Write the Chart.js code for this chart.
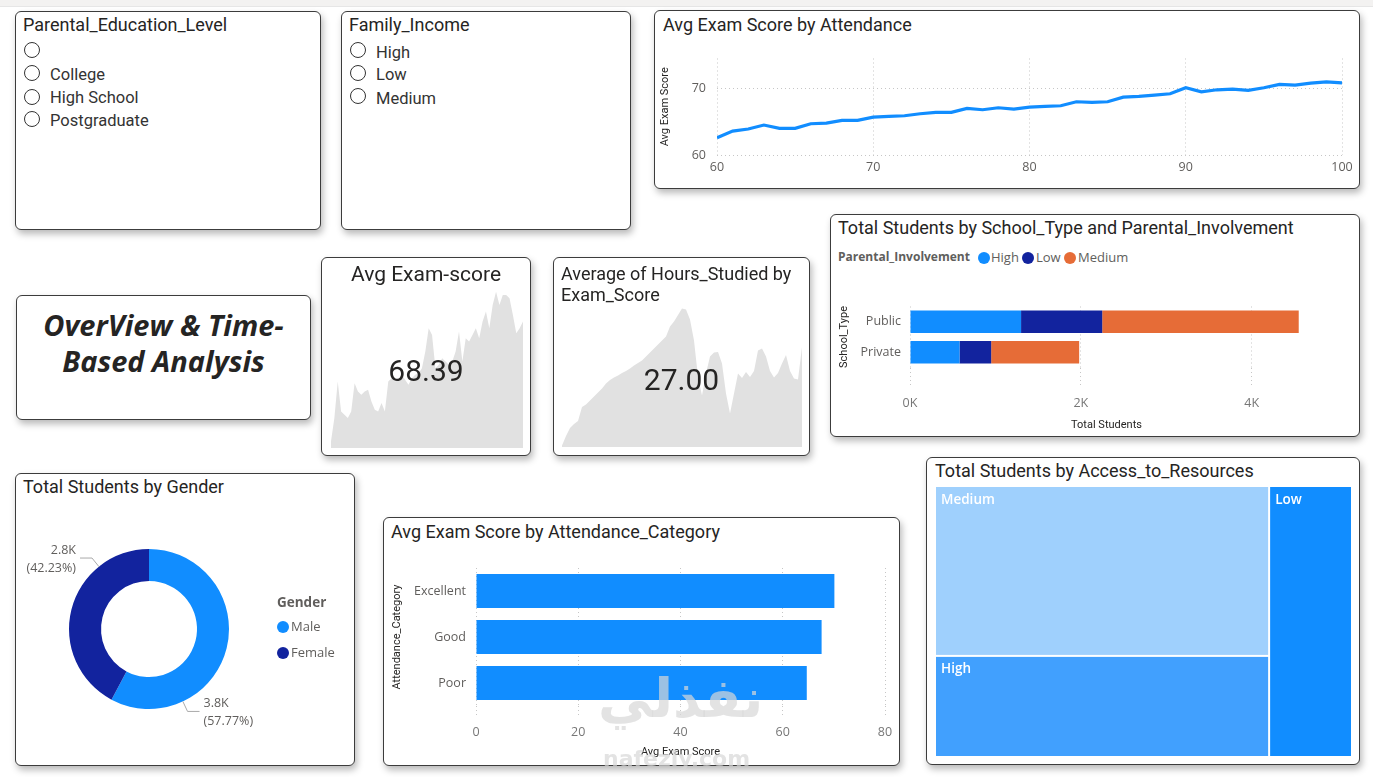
<!DOCTYPE html>
<html><head><meta charset="utf-8">
<script src="https://cdn.jsdelivr.net/npm/chart.js@4.4.1/dist/chart.umd.min.js"></script>
<style>
html,body{margin:0;padding:0;background:#fff;width:1373px;height:777px;overflow:hidden;font-family:Roboto,sans-serif;color:#252423}
.topband{position:absolute;left:0;top:0;width:1373px;height:6px;background:#f3f2f1;border-bottom:1px solid #e6e6e6}
.card{position:absolute;box-sizing:border-box;border:1px solid #3c3c3c;border-radius:6px;background:#fff;box-shadow:2px 4px 7px rgba(0,0,0,0.28)}
.t{position:absolute;white-space:nowrap;line-height:1}
.ttl{font-size:18px;color:#252423}
.radio{position:absolute;width:14px;height:14px;border:1.3px solid #333;border-radius:50%;box-sizing:content-box}
.item{font-size:16.5px;color:#333}
canvas{position:absolute}
.dot{position:absolute;width:12px;height:12px;border-radius:50%}
.lg{font-family:'Open Sans',sans-serif;font-size:13px;color:#605E5C}
</style></head>
<body>
<div class="topband"></div>

<!-- cards -->
<div class="card" style="left:15px;top:11px;width:306px;height:219px"></div>
<div class="card" style="left:341px;top:11px;width:290px;height:219px"></div>
<div class="card" style="left:654px;top:10px;width:706px;height:179px"></div>
<div class="card" style="left:830px;top:214px;width:530px;height:223px"></div>
<div class="card" style="left:16px;top:295px;width:295px;height:125px"></div>
<div class="card" style="left:321px;top:257px;width:210px;height:199px"></div>
<div class="card" style="left:553px;top:257px;width:257px;height:199px"></div>
<div class="card" style="left:15px;top:473px;width:340px;height:293px"></div>
<div class="card" style="left:383px;top:517px;width:517px;height:249px"></div>
<div class="card" style="left:926px;top:457px;width:434px;height:308px"></div>

<!-- slicer 1 -->
<div class="t ttl" style="left:23px;top:16px">Parental_Education_Level</div>
<div class="radio" style="left:24px;top:42px"></div>
<div class="radio" style="left:24px;top:65px"></div>
<div class="t item" style="left:50px;top:67px">College</div>
<div class="radio" style="left:24px;top:89px"></div>
<div class="t item" style="left:50px;top:90px">High School</div>
<div class="radio" style="left:24px;top:111px"></div>
<div class="t item" style="left:50px;top:113px">Postgraduate</div>

<!-- slicer 2 -->
<div class="t ttl" style="left:349px;top:16px">Family_Income</div>
<div class="radio" style="left:350px;top:42px"></div>
<div class="t item" style="left:376px;top:45px">High</div>
<div class="radio" style="left:350px;top:65px"></div>
<div class="t item" style="left:376px;top:67px">Low</div>
<div class="radio" style="left:350px;top:88px"></div>
<div class="t item" style="left:376px;top:91px">Medium</div>

<!-- line chart -->
<div class="t ttl" style="left:663px;top:16px">Avg Exam Score by Attendance</div>
<canvas id="cLine" width="700" height="145" style="left:655px;top:40px"></canvas>

<!-- stacked bar -->
<div class="t ttl" style="left:838px;top:219px">Total Students by School_Type and Parental_Involvement</div>
<div class="t lg" style="left:838px;top:251px;font-weight:700;font-size:12px">Parental_Involvement</div>
<div class="dot" style="left:978px;top:252px;background:#118DFF"></div>
<div class="t lg" style="left:991px;top:251px">High</div>
<div class="dot" style="left:1022px;top:252px;background:#12239E"></div>
<div class="t lg" style="left:1036px;top:251px">Low</div>
<div class="dot" style="left:1064px;top:252px;background:#E66C37"></div>
<div class="t lg" style="left:1078px;top:251px">Medium</div>
<canvas id="cStack" width="525" height="145" style="left:832px;top:290px"></canvas>

<!-- overview -->
<div class="t" style="left:16px;width:295px;top:307px;text-align:center;font-family:'Open Sans',sans-serif;font-weight:700;font-style:italic;font-size:29px;line-height:36px;color:#252423">OverView &amp; Time-<br>Based Analysis</div>

<!-- kpi cards -->
<canvas id="cSpark1" width="192" height="163" style="left:331px;top:285px"></canvas>
<div class="t" style="left:321px;width:210px;text-align:center;top:264px;font-size:21px">Avg Exam-score</div>
<div class="t" style="left:321px;width:210px;text-align:center;top:356px;font-size:30px;color:#252423">68.39</div>

<canvas id="cSpark2" width="240" height="147" style="left:562px;top:300px"></canvas>
<div class="t" style="left:561px;top:263px;font-size:18px;line-height:21px">Average of Hours_Studied by<br>Exam_Score</div>
<div class="t" style="left:553px;width:257px;text-align:center;top:365px;font-size:30px;color:#252423">27.00</div>

<!-- gender donut -->
<div class="t ttl" style="left:23px;top:478px">Total Students by Gender</div>
<canvas id="cDonut" width="260" height="260" style="left:19px;top:499px"></canvas>
<div class="t lg" style="left:277px;top:596px;font-weight:700;font-size:13.5px">Gender</div>
<div class="dot" style="left:277px;top:621px;background:#118DFF"></div>
<div class="t lg" style="left:291px;top:620px">Male</div>
<div class="dot" style="left:277px;top:647px;background:#12239E"></div>
<div class="t lg" style="left:291px;top:646px">Female</div>

<!-- attendance category -->
<div class="t ttl" style="left:391px;top:523px">Avg Exam Score by Attendance_Category</div>
<canvas id="cAtt" width="515" height="212" style="left:385px;top:550px"></canvas>

<!-- treemap -->
<div class="t ttl" style="left:935px;top:462px">Total Students by Access_to_Resources</div>
<canvas id="cTree" width="417" height="271" style="left:935px;top:486px"></canvas>

<!-- watermark -->
<div class="t" style="left:598px;top:672px;font-family:'DejaVu Sans',sans-serif;font-weight:700;font-size:54px;line-height:1;color:rgba(215,215,215,0.7)">نفذلي</div>
<div class="t" style="left:603px;top:748px;font-family:'DejaVu Sans',sans-serif;font-weight:700;font-size:22px;color:rgba(215,215,215,0.7)">nafezly.com</div>

<script>
// ---------------- DATA ----------------
const attendancePct = [60,61,62,63,64,65,66,67,68,69,70,71,72,73,74,75,76,77,78,79,80,81,82,83,84,85,86,87,88,89,90,91,92,93,94,95,96,97,98,99,100];
const avgScoreByAttendance = [62.6,63.6,63.9,64.5,64.0,64.0,64.7,64.8,65.2,65.2,65.7,65.8,65.9,66.2,66.4,66.4,67.0,66.8,67.1,66.9,67.2,67.3,67.4,68.0,67.9,68.0,68.7,68.8,69.0,69.2,70.1,69.5,69.8,69.9,69.7,70.1,70.6,70.5,70.8,71.0,70.85];
const lineTicks = [60,70];

const schoolTypes = ['Public','Private'];
const involvementLevels = ['High','Low','Medium'];
const involvementHigh = [1300,580];
const involvementLow = [950,370];
const involvementMedium = [2300,1030];
const stackTicks = [0,2000,4000];

const avgScoreTrend = [60.4,61.8,64.0,62.2,62.0,61.8,62.2,63.9,63.4,63.2,63.4,63.5,62.8,62.3,62.2,62.7,62.2,64.0,64.2,64.0,64.1,64.4,64.1,63.8,64.2,64.4,64.5,64.8,65.8,67.2,66.8,64.8,65.0,65.4,65.2,65.0,65.2,65.8,67.0,65.2,66.6,66.4,66.8,67.2,66.6,67.6,68.2,67.2,68.6,69.4,68.6,69.2,69.2,69.0,68.0,66.9,67.2,67.6];
const hoursTrend = [0.3,2.2,3.8,4.6,5.2,8.0,8.5,9.3,10.1,10.9,11.7,12.7,13.4,13.9,14.3,14.8,15.2,15.7,16.3,16.8,17.3,18.1,18.9,19.7,20.5,21.3,22.1,24.1,25.1,26.4,27.7,27.5,25.5,21.3,14.0,10.3,14.7,18.1,18.9,19.0,16.7,10.7,6.7,10.7,14.7,13.8,15.0,14.0,15.2,19.3,19.7,18.1,15.2,13.9,14.8,16.7,18.4,15.2,13.7,13.5,20.0];

const genders = ['Male','Female'];
const genderCounts = [3817,2790];

const attendanceCategories = ['Excellent','Good','Poor'];
const attendanceAvgScores = [70.1,67.6,64.7];

const accessLevels = ['Medium','High','Low'];
const accessCounts = [3319,1975,1313];

// ---------------- STYLE ----------------
const BLUE='#118DFF', NAVY='#12239E', ORANGE='#E66C37';
Chart.defaults.font.family = "'Open Sans', sans-serif";
Chart.defaults.color = '#605E5C';
Chart.defaults.animation = false;
Chart.defaults.plugins.legend.display = false;
Chart.defaults.plugins.tooltip.enabled = false;
const GRID = '#c6c6c6';
const titleFont = {family:'Roboto', size:11};
const noSidePad = s=>{s.paddingLeft=0;s.paddingRight=0;};

// ---------------- LINE ----------------
new Chart(document.getElementById('cLine'), {
  type:'line',
  data:{datasets:[{data:attendancePct.map((a,i)=>({x:a,y:avgScoreByAttendance[i]})),borderColor:BLUE,borderWidth:3.2,pointRadius:0,tension:0,fill:false}]},
  options:{responsive:false,
    layout:{padding:{top:11,right:13,left:0,bottom:0}},
    scales:{
      x:{type:'linear',min:60,max:100,ticks:{stepSize:10,padding:5,font:{size:12.5},color:'#605E5C'},
         grid:{color:GRID,drawTicks:false,borderDash:[1,3]},border:{display:false,dash:[1,3]},
         afterFit:s=>{s.height=30;noSidePad(s);}},
      y:{min:60,max:74.5,ticks:{stepSize:10,padding:11,font:{size:12.5},color:'#605E5C'},
         afterBuildTicks:s=>{s.ticks=lineTicks.map(v=>({value:v}));},
         grid:{color:GRID,drawTicks:false,borderDash:[1,3]},border:{display:false,dash:[1,3]},
         title:{display:true,text:'Avg Exam Score',font:titleFont,color:'#252423',padding:{top:4,bottom:0}},
         afterFit:s=>{s.width=62;}}
    }}
});

// ---------------- STACKED BAR ----------------
new Chart(document.getElementById('cStack'), {
  type:'bar',
  data:{labels:schoolTypes,datasets:[
    {label:involvementLevels[0],data:involvementHigh,backgroundColor:BLUE},
    {label:involvementLevels[1],data:involvementLow,backgroundColor:NAVY},
    {label:involvementLevels[2],data:involvementMedium,backgroundColor:ORANGE}
  ]},
  options:{responsive:false,indexAxis:'y',
    datasets:{bar:{barPercentage:0.74,categoryPercentage:1,borderWidth:0}},
    layout:{padding:{top:15.5,right:54,left:0,bottom:0}},
    scales:{
      x:{stacked:true,min:0,max:4600,
         afterBuildTicks:s=>{s.ticks=stackTicks.map(v=>({value:v}));},
         ticks:{callback:v=>(v/1000)+'K',padding:9,font:{size:12.5},color:'#777'},
         grid:{color:GRID,drawTicks:true,tickLength:19,tickColor:GRID,tickBorderDash:[1,3],borderDash:[1,3]},
         border:{display:false,dash:[1,3]},
         title:{display:true,text:'Total Students',font:titleFont,color:'#252423',padding:{top:0,bottom:3}},
         afterFit:s=>{s.height=67.5;noSidePad(s);}},
      y:{stacked:true,grid:{display:false,drawTicks:false},border:{display:false},
         ticks:{padding:9,font:{size:12.5},color:'#605E5C'},
         title:{display:true,text:'School_Type',font:titleFont,color:'#252423',padding:{top:6,bottom:0}},
         afterFit:s=>{s.width=78;}}
    }}
});

// ---------------- SPARKLINES ----------------
function spark(id, values, min, max){
  new Chart(document.getElementById(id), {
    type:'line',
    data:{labels:values.map((_,i)=>i),datasets:[{data:values,borderWidth:0,borderColor:'rgba(0,0,0,0)',backgroundColor:'#E1E1E1',fill:'start',pointRadius:0,tension:0}]},
    options:{responsive:false,layout:{padding:0},
      scales:{x:{display:false,offset:false},y:{display:false,min:min,max:max}}}
  });
}
spark('cSpark1', avgScoreTrend, 60, 69.8);
spark('cSpark2', hoursTrend, 0, 29.4);

// ---------------- DONUT ----------------
const donutLabels = {
  id:'donutLabels',
  afterDatasetsDraw(chart){
    const ctx = chart.ctx;
    const meta = chart.getDatasetMeta(0);
    const data = chart.data.datasets[0].data;
    const total = data.reduce((a,b)=>a+b,0);
    meta.data.forEach((arc,i)=>{
      const p = arc.getProps(['x','y','startAngle','endAngle','outerRadius'],true);
      const a = p.startAngle + 0.745*(p.endAngle-p.startAngle);
      const c = Math.cos(a), s = Math.sin(a);
      const x0 = p.x + p.outerRadius*c, y0 = p.y + p.outerRadius*s;
      const x1 = p.x + (p.outerRadius+11)*c, y1 = p.y + (p.outerRadius+11)*s;
      const dir = c<0?-1:1;
      const x2 = x1 + dir*12;
      ctx.save();
      ctx.strokeStyle='#a9a9a9'; ctx.lineWidth=1;
      ctx.beginPath(); ctx.moveTo(x0,y0); ctx.lineTo(x1,y1); ctx.lineTo(x2,y1); ctx.stroke();
      ctx.fillStyle='#605E5C'; ctx.font="12.5px 'Open Sans'";
      ctx.textAlign = dir<0?'right':'left'; ctx.textBaseline='middle';
      const tx = x2 + dir*4;
      const v = (data[i]/1000).toFixed(1)+'K';
      const pct = '('+(data[i]/total*100).toFixed(2)+'%)';
      ctx.fillText(v, tx, y1-8);
      ctx.fillText(pct, tx, y1+10);
      ctx.restore();
    });
  }
};
new Chart(document.getElementById('cDonut'), {
  type:'doughnut',
  data:{labels:genders,datasets:[{data:genderCounts,backgroundColor:[BLUE,NAVY],borderWidth:0}]},
  options:{responsive:false,cutout:'60%',layout:{padding:50}},
  plugins:[donutLabels]
});

// ---------------- ATTENDANCE CATEGORY ----------------
new Chart(document.getElementById('cAtt'), {
  type:'bar',
  data:{labels:attendanceCategories,datasets:[{data:attendanceAvgScores,backgroundColor:BLUE,borderWidth:0}]},
  options:{responsive:false,indexAxis:'y',
    datasets:{bar:{barPercentage:0.74,categoryPercentage:1}},
    layout:{padding:{top:18,right:15,left:0,bottom:0}},
    scales:{
      x:{min:0,max:80,ticks:{stepSize:20,padding:10,font:{size:12.5},color:'#777'},
         grid:{color:GRID,drawTicks:true,tickLength:9,tickColor:GRID,tickBorderDash:[1,3],borderDash:[1,3]},
         border:{display:false,dash:[1,3]},
         title:{display:true,text:'Avg Exam Score',font:titleFont,color:'#252423',padding:{top:0,bottom:3}},
         afterFit:s=>{s.height=56;noSidePad(s);}},
      y:{grid:{display:false,drawTicks:false},border:{display:false},
         ticks:{padding:10,font:{size:12.5},color:'#605E5C'},
         title:{display:true,text:'Attendance_Category',font:titleFont,color:'#252423',padding:{top:6,bottom:0}},
         afterFit:s=>{s.width=91;}}
    }}
});

// ---------------- TREEMAP ----------------
const treemapTiles = {
  id:'treemapTiles',
  afterDatasetsDraw(chart){
    const ctx = chart.ctx, xs = chart.scales.x, ys = chart.scales.y;
    const vals = accessCounts, total = vals.reduce((a,b)=>a+b,0);
    const colA = vals[0]+vals[1];
    const rects = [
      {i:0,x0:0,x1:colA,y0:0,y1:vals[0]/colA},
      {i:1,x0:0,x1:colA,y0:vals[0]/colA,y1:1},
      {i:2,x0:colA,x1:total,y0:0,y1:1}
    ];
    const colors = ['#9FD0FD','#41A0FE','#118DFF'];
    rects.forEach(r=>{
      const px0 = xs.getPixelForValue(r.x0), px1 = xs.getPixelForValue(r.x1);
      const py0 = ys.getPixelForValue(r.y0), py1 = ys.getPixelForValue(r.y1);
      const l = Math.min(px0,px1)+1, t = Math.min(py0,py1)+1;
      const w = Math.abs(px1-px0)-2, h = Math.abs(py1-py0)-2;
      ctx.save();
      ctx.fillStyle = colors[r.i];
      ctx.fillRect(l,t,w,h);
      ctx.fillStyle = '#fff';
      ctx.font = "600 13.5px 'Open Sans'";
      ctx.textBaseline='top';
      ctx.fillText(accessLevels[r.i], l+5, t+6);
      ctx.restore();
    });
  }
};
new Chart(document.getElementById('cTree'), {
  type:'scatter',
  data:{datasets:[{data:[]}]},
  options:{responsive:false,layout:{padding:0},
    scales:{x:{display:false,min:0,max:accessCounts.reduce((a,b)=>a+b,0)},
            y:{display:false,min:0,max:1,reverse:true}}},
  plugins:[treemapTiles]
});
</script>
</body></html>
